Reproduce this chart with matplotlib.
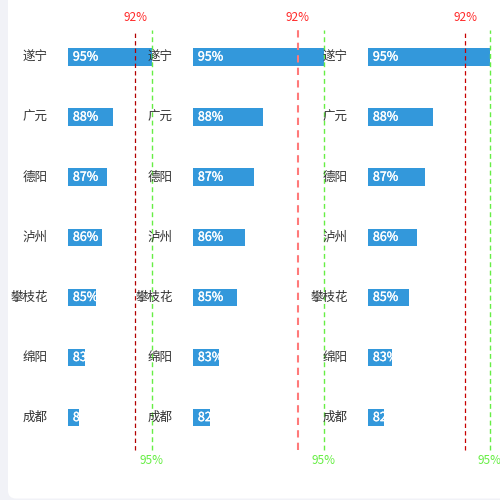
import matplotlib
matplotlib.use("Agg")
import matplotlib.pyplot as plt
import matplotlib.patheffects as pe
from matplotlib.patches import FancyBboxPatch

plt.rcParams['font.family'] = ['Noto Sans CJK SC', 'DejaVu Sans']

cities = ['遂宁', '广元', '德阳', '泸州', '攀枝花', '绵阳', '成都']
values = [95, 88, 87, 86, 85, 83, 82]
target_line = 92
goal_line = 95
axis_min = 80
axis_max = 100

W = H = 500
fig = plt.figure(figsize=(5, 5), dpi=100, facecolor='#f1f2f7')

# white card
card = FancyBboxPatch((8 / W, 1.5 / H), 520 / W, 510 / H,
                      boxstyle='round,pad=0,rounding_size=0.016',
                      transform=fig.transFigure, facecolor='white',
                      edgecolor='none', zorder=-10)
fig.patches.append(card)

# panel layout: (bar start px, px per percent, red line color, red lw)
panels = [
    (68, 5.6, '#b30000', 0.9),
    (193, 8.73, '#ff7a7a', 1.5),
    (368, 8.1, '#c80000', 0.9),
]

top_px, bot_px = 30, 450
row0, rowstep = 57, 60.1
ytop = -(row0 - top_px) / rowstep
ybot = 6 + (bot_px - (row0 + 6 * rowstep)) / rowstep

for k, (x0, scale, rcol, rlw) in enumerate(panels):
    width_px = (axis_max - axis_min) * scale
    ax = fig.add_axes([x0 / W, 1 - bot_px / H, width_px / W, (bot_px - top_px) / H])
    ax.set_zorder(k + 1)
    ax.patch.set_alpha(0)
    ax.set_xlim(axis_min, axis_max)
    ax.set_ylim(ybot, ytop)
    ax.axis('off')
    ypos = list(range(len(cities)))
    bars = ax.barh(ypos, [v - axis_min for v in values], left=axis_min,
                   height=0.29, color='#3398db', zorder=2)
    for i, (c, v, b) in enumerate(zip(cities, values, bars)):
        ax.annotate(c, xy=(axis_min, i), xytext=(-14.5, 0),
                    textcoords='offset points', ha='right', va='center',
                    fontsize=9, color='#333333', annotation_clip=False)
        t = ax.annotate(f'{v}%', xy=(axis_min, i), xytext=(3.5, 0),
                        textcoords='offset points', ha='left', va='center',
                        fontsize=9, color='white', zorder=3,
                        path_effects=[pe.withStroke(linewidth=0.25, foreground='white')])
        t.set_clip_path(b)
    ax.axvline(target_line, color=rcol, lw=rlw, linestyle=(0, (3.5, 2.5)),
               zorder=4, clip_on=False)
    ax.axvline(goal_line, color='#66ee44', lw=1.0, linestyle=(0, (3.5, 2.5)),
               zorder=4, clip_on=False)
    ax.annotate(f'{target_line}%', xy=(target_line, 1), xycoords=('data', 'axes fraction'),
                xytext=(0, 4), textcoords='offset points', ha='center', va='bottom',
                fontsize=8.5, color='#ff2a2a', annotation_clip=False)
    ax.annotate(f'{goal_line}%', xy=(goal_line, 0), xycoords=('data', 'axes fraction'),
                xytext=(0, -3), textcoords='offset points', ha='center', va='top',
                fontsize=8.5, color='#66ee44', annotation_clip=False)

fig.savefig('out.png', dpi=100, facecolor=fig.get_facecolor())
